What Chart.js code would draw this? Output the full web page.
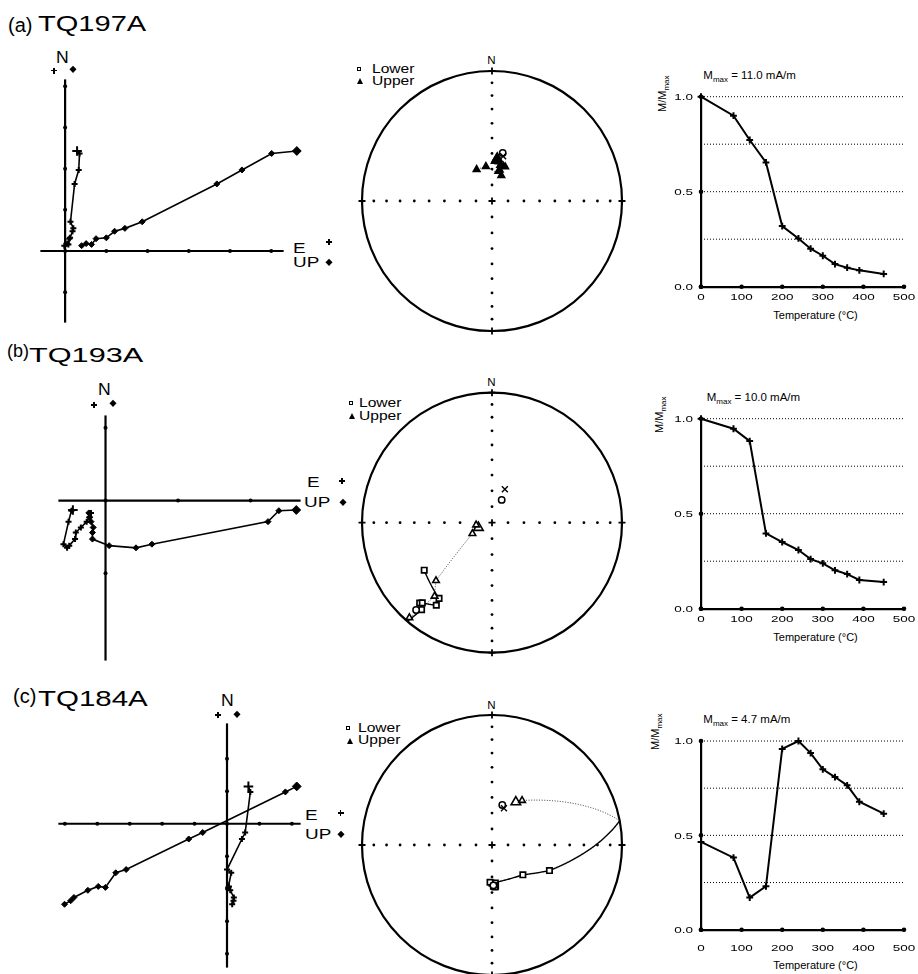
<!DOCTYPE html>
<html>
<head>
<meta charset="utf-8">
<script src="https://cdn.jsdelivr.net/npm/chart.js@4.4.0/dist/chart.umd.min.js"></script>
<style>
  body { margin: 0; background: #fff; }
  #fig { position: relative; width: 918px; height: 974px; overflow: hidden; font-family: "Liberation Sans", Arial, sans-serif; color: #000; }
  canvas { position: absolute; }
  .t { position: absolute; line-height: 1; white-space: nowrap; transform-origin: 0 0; }
  .sb { font-size: 8px; position: relative; top: 3px; }
  .sq { position: absolute; width: 2px; height: 2px; border: 1.5px solid #000; background: #fff; transform: translate(-50%, -50%); }
  .tri { position: absolute; width: 0; height: 0; border-left: 3.5px solid transparent; border-right: 3.5px solid transparent; border-bottom: 6px solid #000; transform: translate(-50%, -50%); }
  .dia { position: absolute; width: 4.5px; height: 4.5px; background: #000; transform: translate(-50%, -50%) rotate(45deg); }
  .pl { position: absolute; width: 6px; height: 6px; transform: translate(-50%, -50%); }
  .pl:before { content: ""; position: absolute; left: 0; top: 2.2px; width: 6px; height: 1.6px; background: #000; }
  .pl:after { content: ""; position: absolute; left: 2.2px; top: 0; width: 1.6px; height: 6px; background: #000; }
</style>
</head>
<body>
<div id="fig">
  <!-- panel titles -->
  <div class="t" style="left:8px;top:14.8px;font-size:20px">(a)</div>
  <div class="t" style="left:38px;top:13.1px;font-size:22px;transform:scaleX(1.32)">TQ197A</div>
  <div class="t" style="left:7px;top:341.5px;font-size:18px">(b)</div>
  <div class="t" style="left:29.3px;top:343.9px;font-size:21px;transform:scaleX(1.46)">TQ193A</div>
  <div class="t" style="left:13px;top:686px;font-size:20px">(c)</div>
  <div class="t" style="left:38.3px;top:688.1px;font-size:22px;transform:scaleX(1.34)">TQ184A</div>

  <!-- zijderveld labels -->
  <div class="t" style="left:56.1px;top:49.8px;font-size:16px;transform:scaleX(1.1)">N</div>
  <div class="pl" style="left:54.3px;top:70.7px"></div><div class="dia" style="left:73.3px;top:69.3px"></div>
  <div class="t" style="left:293px;top:241.4px;font-size:14px;transform:scaleX(1.35)">E</div>
  <div class="t" style="left:293px;top:254.8px;font-size:14px;transform:scaleX(1.35)">UP</div>
  <div class="pl" style="left:329px;top:242px"></div><div class="dia" style="left:329px;top:262px"></div>

  <div class="t" style="left:97.8px;top:381.5px;font-size:16px;transform:scaleX(1.1)">N</div>
  <div class="pl" style="left:94px;top:405px"></div><div class="dia" style="left:113px;top:403px"></div>
  <div class="t" style="left:307.3px;top:474.8px;font-size:14px;transform:scaleX(1.35)">E</div>
  <div class="t" style="left:304px;top:494.8px;font-size:14px;transform:scaleX(1.35)">UP</div>
  <div class="pl" style="left:342px;top:481px"></div><div class="dia" style="left:343px;top:502px"></div>

  <div class="t" style="left:220.6px;top:692.5px;font-size:16px;transform:scaleX(1.1)">N</div>
  <div class="pl" style="left:218px;top:715px"></div><div class="dia" style="left:237px;top:714px"></div>
  <div class="t" style="left:305px;top:808.1px;font-size:14px;transform:scaleX(1.35)">E</div>
  <div class="t" style="left:305px;top:827.4px;font-size:14px;transform:scaleX(1.35)">UP</div>
  <div class="pl" style="left:340.7px;top:813.3px"></div><div class="dia" style="left:340.7px;top:834px"></div>

  <!-- stereonet labels -->
  <div class="t" style="left:487.3px;top:55.3px;font-size:11.5px">N</div>
  <div class="sq" style="left:358.7px;top:69.2px"></div><div class="t" style="left:371.7px;top:62.5px;font-size:12px;transform:scaleX(1.3)">Lower</div>
  <div class="tri" style="left:360px;top:80.7px"></div><div class="t" style="left:371.7px;top:74.8px;font-size:12px;transform:scaleX(1.3)">Upper</div>

  <div class="t" style="left:487.3px;top:377px;font-size:11.5px">N</div>
  <div class="sq" style="left:350.5px;top:402.5px"></div><div class="t" style="left:359.3px;top:396.5px;font-size:12px;transform:scaleX(1.3)">Lower</div>
  <div class="tri" style="left:351.5px;top:416px"></div><div class="t" style="left:359.3px;top:410.1px;font-size:12px;transform:scaleX(1.3)">Upper</div>

  <div class="t" style="left:487.3px;top:699.6px;font-size:11.5px">N</div>
  <div class="sq" style="left:348.3px;top:727.5px"></div><div class="t" style="left:358.3px;top:721.5px;font-size:12px;transform:scaleX(1.3)">Lower</div>
  <div class="tri" style="left:349.5px;top:740.5px"></div><div class="t" style="left:358.3px;top:734.4px;font-size:12px;transform:scaleX(1.3)">Upper</div>

  <!-- demagnetisation labels -->
  <div class="t" style="left:703.3px;top:70.3px;font-size:11.5px">M<span class="sb">max</span> = 11.0 mA/m</div>
  <div class="t" style="left:656.9px;top:111.7px;font-size:11px;transform:rotate(-90deg)">M/M<span class="sb">max</span></div>
  <div class="t" style="left:773.3px;top:310.3px;font-size:11px">Temperature (°C)</div>

  <div class="t" style="left:706.7px;top:392px;font-size:11.5px">M<span class="sb">max</span> = 10.0 mA/m</div>
  <div class="t" style="left:653.6px;top:433.3px;font-size:11px;transform:rotate(-90deg)">M/M<span class="sb">max</span></div>
  <div class="t" style="left:773.3px;top:631.9px;font-size:11px">Temperature (°C)</div>

  <div class="t" style="left:703.3px;top:713.6px;font-size:11.5px">M<span class="sb">max</span> = 4.7 mA/m</div>
  <div class="t" style="left:650.3px;top:750px;font-size:11px;transform:rotate(-90deg)">M/M<span class="sb">max</span></div>
  <div class="t" style="left:773.3px;top:960.3px;font-size:11px">Temperature (°C)</div>
</div>

<script>
// thermal demagnetisation steps (°C) and normalised intensities
var tempSteps = [0, 80, 120, 160, 200, 240, 270, 300, 330, 360, 390, 450];
var magA = [1.00, 0.90, 0.772, 0.654, 0.319, 0.254, 0.200, 0.163, 0.119, 0.100, 0.086, 0.067];
var magB = [1.00, 0.947, 0.882, 0.396, 0.351, 0.309, 0.261, 0.239, 0.202, 0.182, 0.151, 0.140];
var magC = [0.465, 0.382, 0.170, 0.230, 0.958, 1.00, 0.936, 0.850, 0.809, 0.765, 0.678, 0.615];
var tempTicks = [0, 100, 200, 300, 400, 500];
var magTicks = [0, 0.5, 1.0];
var magGrid = [0.25, 0.5, 0.75, 1.0];

// zijderveld components (arbitrary units, one per step)
var zijN_A = [2.43, 2.37, 1.97, 1.63, 0.71, 0.55, 0.48, 0.32, 0.30, 0.16, 0.18, 0.13];
var zijE_A = [0.29, 0.35, 0.33, 0.23, 0.13, 0.20, 0.18, 0.12, 0.10, 0.08, 0.05, -0.02];
var zijUp_A = [5.62, 5.01, 4.29, 3.68, 1.87, 1.45, 1.20, 1.00, 0.75, 0.64, 0.51, 0.40];
var zijRangeE_A = [-0.6, 5.3], zijRangeN_A = [-1.74, 4.17];
var zijTicksE_A = [0, 1, 2, 3, 4, 5], zijTicksN_A = [-1, 1, 2, 3, 4];

var zijN_B = [-0.13, -0.14, -0.29, -0.60, -0.65, -0.62, -0.53, -0.44, -0.37, -0.29, -0.23, -0.17];
var zijE_B = [-0.45, -0.47, -0.51, -0.58, -0.53, -0.50, -0.42, -0.41, -0.34, -0.26, -0.22, -0.20];
var zijUp_B = [2.63, 2.39, 2.24, 0.64, 0.42, 0.05, -0.18, -0.18, -0.17, -0.20, -0.22, -0.23];
var zijRangeE_B = [-0.65, 2.69], zijRangeN_B = [-2.2, 1.17];
var zijTicksE_B = [0, 1, 2], zijTicksN_B = [1, -1];

var zijN_C = [1.15, 0.98, -0.27, -0.47, -1.41, -1.51, -1.96, -1.93, -2.05, -2.27, -2.37, -2.48];
var zijE_C = [0.66, 0.72, 0.56, 0.46, 0.00, 0.13, 0.04, 0.06, 0.10, 0.21, 0.20, 0.16];
var zijUp_C = [2.15, 1.80, -0.75, -1.18, -3.11, -3.43, -3.75, -3.97, -4.29, -4.72, -4.82, -5.01];
var zijRangeE_C = [-5.2, 2.27], zijRangeN_C = [-4.43, 3.09];
var zijTicksE_C = [-5, -4, -3, -2, -1, 0, 1, 2], zijTicksN_C = [2, 1, -1, -2, -3, -4];

// stereonet directions (declination, inclination in degrees), in step order
var decA = [7, 4, 10, 6, 13, 21, 18, 14, 12, 20, 350, 334];
var incA = [-63, -65, -65, -63, -67, -67, -67, -70, -71, -73, -68, -68];
var meanDecA = [12.6], meanIncA = [-59];
var crossDecA = [14], crossIncA = [61];

var decB = [250, 262, 241, 224, 218, 221, 219, 222, 221, 214, 215, 235];
var incB = [-81, -80, -76, -38, -29, -3.5, 15, 18, 19.4, 24.4, 29.7, 36.5];
var meanDecB = [221, 23], meanIncB = [12, 74.5];
var crossDecB = [21], crossIncB = [67.5];

var decC = [29, 34, 114, 134, 180, 175, 183, 178, 177, 175, 176, 176];
var incC = [-59, -56, 50, 63, 66, 66, 66.6, 64, 64.4, 64.2, 63.8, 63.6];
var meanDecC = [14.4, 178], meanIncC = [64, 64.6];
var crossDecC = [18], crossIncC = [65.7];

var stereoTickInc = [80, 70, 60, 50, 40, 30, 20, 10];
var stereoTickDec = [0, 90, 180, 270];

var fig = document.getElementById('fig');
var RAD = Math.PI / 180;

function mount(area, pad) {
  var cv = document.createElement('canvas');
  var L = Math.floor(area[0] - pad[0]), T = Math.floor(area[1] - pad[1]);
  var R = Math.ceil(area[2] + pad[2]), B = Math.ceil(area[3] + pad[3]);
  cv.width = R - L; cv.height = B - T;
  cv.style.left = L + 'px'; cv.style.top = T + 'px';
  cv.style.width = (R - L) + 'px'; cv.style.height = (B - T) + 'px';
  fig.appendChild(cv);
  return { cv: cv, padding: { left: area[0] - L, top: area[1] - T, right: R - area[2], bottom: B - area[3] } };
}

function baseOptions(padding) {
  return {
    responsive: false, animation: false, events: [], devicePixelRatio: 1,
    layout: { padding: padding },
    plugins: { legend: { display: false }, tooltip: { enabled: false } }
  };
}

// area is where the drawn axes end; the plot area gets a margin so the end points stay visible
function zijderveld(area, n, e, up, rangeE, rangeN, ticksE, ticksN) {
  var M = 22;
  var ux = (area[2] - area[0]) / (rangeE[1] - rangeE[0]);
  var uy = (area[3] - area[1]) / (rangeN[1] - rangeN[0]);
  var m = mount([area[0] - M, area[1] - M, area[2] + M, area[3] + M], [4, 4, 4, 4]);
  var pts = function (xs) { return xs.map(function (v, i) { return { x: v, y: n[i] }; }); };
  var opts = baseOptions(m.padding);
  opts.scales = {
    x: { type: 'linear', display: false, min: rangeE[0] - M / ux, max: rangeE[1] + M / ux },
    y: { type: 'linear', display: false, min: rangeN[0] - M / uy, max: rangeN[1] + M / uy }
  };
  new Chart(m.cv, {
    type: 'scatter',
    data: { datasets: [
      { data: pts(e), showLine: true, borderColor: '#000', borderWidth: 1.6, pointStyle: 'cross',
        pointRadius: function (c) { return c.dataIndex === 0 ? 4.8 : 3; },
        pointBorderColor: '#000', pointBorderWidth: 2, clip: false },
      { data: pts(up), showLine: true, borderColor: '#000', borderWidth: 1.6, pointStyle: 'rectRot',
        pointRadius: function (c) { return c.dataIndex === 0 ? 4.4 : 3; },
        pointBackgroundColor: '#000', pointBorderColor: '#000', pointBorderWidth: 1, clip: false },
      { data: ticksE.map(function (t) { return { x: t, y: 0 }; }).concat(ticksN.map(function (t) { return { x: 0, y: t }; })),
        pointStyle: 'circle', pointRadius: 2, pointBackgroundColor: '#000', pointBorderWidth: 0, clip: false },
      { data: rangeE.map(function (v) { return { x: v, y: 0 }; }), showLine: true, borderColor: '#000', borderWidth: 2.2, pointRadius: 0, clip: false },
      { data: rangeN.map(function (v) { return { x: 0, y: v }; }), showLine: true, borderColor: '#000', borderWidth: 2.2, pointRadius: 0, clip: false }
    ] },
    options: opts
  });
}

// equal-area projection, upper-hemisphere points plotted by |inc|
function eqArea(dec, inc) {
  var r = Math.SQRT2 * Math.sin((90 - Math.abs(inc)) * RAD / 2);
  return { x: r * Math.sin(dec * RAD), y: r * Math.cos(dec * RAD) };
}
function toVec(dec, inc) {
  return [Math.cos(inc * RAD) * Math.cos(dec * RAD), Math.cos(inc * RAD) * Math.sin(dec * RAD), Math.sin(inc * RAD)];
}

function stereoPathPlugin(dec, inc) {
  return {
    id: 'stereoPath',
    beforeDatasetsDraw: function (chart) {
      var ctx = chart.ctx, sx = chart.scales.x, sy = chart.scales.y;
      var cx = sx.getPixelForValue(0), cy = sy.getPixelForValue(0);
      var R = sx.getPixelForValue(1) - cx;
      ctx.save();
      ctx.strokeStyle = '#000';
      ctx.lineWidth = 2.2;
      ctx.beginPath(); ctx.arc(cx, cy, R, 0, 2 * Math.PI); ctx.stroke();
      // great circle steps between successive demag directions
      var runs = [], cur = null;
      for (var i = 1; i < dec.length; i++) {
        var a = toVec(dec[i - 1], inc[i - 1]), b = toVec(dec[i], inc[i]);
        var d = Math.min(1, Math.max(-1, a[0] * b[0] + a[1] * b[1] + a[2] * b[2]));
        var ang = Math.acos(d);
        var n = Math.max(2, Math.ceil(ang / RAD * 2));
        for (var k = 0; k <= n; k++) {
          var t = k / n, v;
          if (ang < 1e-6) { v = a; } else {
            var w1 = Math.sin((1 - t) * ang) / Math.sin(ang), w2 = Math.sin(t * ang) / Math.sin(ang);
            v = [w1 * a[0] + w2 * b[0], w1 * a[1] + w2 * b[1], w1 * a[2] + w2 * b[2]];
          }
          var len = Math.sqrt(v[0] * v[0] + v[1] * v[1] + v[2] * v[2]);
          var pd = Math.atan2(v[1], v[0]) / RAD, pi = Math.asin(v[2] / len) / RAD;
          var p = eqArea(pd, pi);
          var px = { x: sx.getPixelForValue(p.x), y: sy.getPixelForValue(p.y) };
          var lower = v[2] >= 0;
          if (!cur || cur.lower !== lower) {
            var start = cur ? cur.pts[cur.pts.length - 1] : null;
            cur = { lower: lower, pts: start ? [start] : [] };
            runs.push(cur);
          }
          cur.pts.push(px);
        }
      }
      runs.forEach(function (r) {
        if (r.pts.length < 2) return;
        ctx.beginPath();
        ctx.lineWidth = r.lower ? 1.4 : 1;
        ctx.strokeStyle = r.lower ? '#000' : '#333';
        ctx.setLineDash(r.lower ? [] : [1, 1.6]);
        ctx.moveTo(r.pts[0].x, r.pts[0].y);
        for (var j = 1; j < r.pts.length; j++) ctx.lineTo(r.pts[j].x, r.pts[j].y);
        ctx.stroke();
      });
      ctx.restore();
    }
  };
}

function stereonet(area, dec, inc, filledUpper, meanDec, meanInc, crossDec, crossInc) {
  var m = mount(area, [14, 14, 14, 14]);
  var lower = [], upper = [], upperIdx = [];
  dec.forEach(function (d, i) {
    var p = eqArea(d, inc[i]);
    if (inc[i] >= 0) lower.push(p); else { upper.push(p); upperIdx.push(i); }
  });
  var ticks = [], edges = [{ x: 0, y: 0 }];
  stereoTickDec.forEach(function (d) {
    stereoTickInc.forEach(function (i) { ticks.push(eqArea(d, i)); });
    edges.push(eqArea(d, 0));
  });
  var opts = baseOptions(m.padding);
  opts.scales = {
    x: { type: 'linear', display: false, min: -1, max: 1 },
    y: { type: 'linear', display: false, min: -1, max: 1 }
  };
  new Chart(m.cv, {
    type: 'scatter',
    data: { datasets: [
      { data: crossDec.map(function (d, i) { return eqArea(d, crossInc[i]); }), pointStyle: 'crossRot', pointRadius: 4.2,
        pointBorderColor: '#000', pointBorderWidth: 1.4, clip: false },
      { data: meanDec.map(function (d, i) { return eqArea(d, meanInc[i]); }), pointStyle: 'circle', pointRadius: 3.2,
        pointBackgroundColor: '#fff', pointBorderColor: '#000', pointBorderWidth: 1.5, clip: false },
      { data: upper, pointStyle: 'triangle',
        pointRadius: function (c) { return upperIdx[c.dataIndex] === 0 ? 5.5 : 3.8; },
        pointBackgroundColor: filledUpper ? '#000' : '#fff', pointBorderColor: '#000', pointBorderWidth: 1.6, clip: false },
      { data: lower, pointStyle: 'rect', pointRadius: 3.8,
        pointBackgroundColor: '#fff', pointBorderColor: '#000', pointBorderWidth: 1.7, clip: false },
      { data: ticks, pointStyle: 'circle', pointRadius: 1.4, pointBackgroundColor: '#000', pointBorderWidth: 0, clip: false },
      { data: edges, pointStyle: 'cross', pointRadius: 3.5, pointBorderColor: '#000', pointBorderWidth: 1.8, clip: false }
    ] },
    options: opts,
    plugins: [stereoPathPlugin(dec, inc)]
  });
}

function wideText(ctx, s, px, py, align) {
  ctx.save();
  ctx.translate(px, py);
  ctx.scale(1.42, 1);
  ctx.textAlign = align;
  ctx.fillText(s, 0, 0);
  ctx.restore();
}

function demagPlugin(gap) {
  return {
    id: 'demagDecor',
    beforeDatasetsDraw: function (chart) {
      var ctx = chart.ctx, sx = chart.scales.x, sy = chart.scales.y;
      ctx.save();
      ctx.strokeStyle = '#000'; ctx.lineWidth = 1; ctx.setLineDash([1, 2]);
      magGrid.forEach(function (v) {
        var py = sy.getPixelForValue(v);
        ctx.beginPath(); ctx.moveTo(sx.getPixelForValue(0), py); ctx.lineTo(sx.getPixelForValue(500), py); ctx.stroke();
      });
      ctx.restore();
    },
    afterDraw: function (chart) {
      var ctx = chart.ctx, sx = chart.scales.x, sy = chart.scales.y;
      var y0 = sy.getPixelForValue(0), x0 = sx.getPixelForValue(0);
      ctx.save();
      ctx.fillStyle = '#000';
      ctx.font = '9.5px "Liberation Sans"';
      ctx.textBaseline = 'alphabetic';
      tempTicks.forEach(function (t) { wideText(ctx, String(t), sx.getPixelForValue(t), y0 + gap + 6.8, 'center'); });
      magTicks.forEach(function (v) { wideText(ctx, v.toFixed(1), x0 - 8, sy.getPixelForValue(v) + 3.4, 'right'); });
      ctx.restore();
    }
  };
}

function demag(area, mag, gap) {
  var m = mount(area, [52, 12, 16, 30]);
  var opts = baseOptions(m.padding);
  opts.scales = {
    x: { type: 'linear', min: 0, max: 500, grid: { display: false, drawTicks: false }, ticks: { display: false },
         border: { display: true, color: '#000', width: 2.2 }, afterFit: function (s) { s.height = 0; } },
    y: { type: 'linear', min: 0, max: 1, grid: { display: false, drawTicks: false }, ticks: { display: false },
         border: { display: true, color: '#000', width: 2.2 }, afterFit: function (s) { s.width = 0; } }
  };
  new Chart(m.cv, {
    type: 'scatter',
    data: { datasets: [
      { data: tempSteps.map(function (t, i) { return { x: t, y: mag[i] }; }), showLine: true, borderColor: '#000', borderWidth: 2,
        pointStyle: 'cross', pointRadius: 3.4, pointBorderColor: '#000', pointBorderWidth: 2, clip: false },
      { data: tempTicks.map(function (t) { return { x: t, y: 0 }; }).concat(magTicks.map(function (v) { return { x: 0, y: v }; })),
        pointStyle: 'circle', pointRadius: 2.3, pointBackgroundColor: '#000', pointBorderWidth: 0, clip: false }
    ] },
    options: opts,
    plugins: [demagPlugin(gap)]
  });
}

zijderveld([38, 77, 286, 325], zijN_A, zijE_A, zijUp_A, zijRangeE_A, zijRangeN_A, zijTicksE_A, zijTicksN_A);
zijderveld([56, 413.3, 303, 662.7], zijN_B, zijE_B, zijUp_B, zijRangeE_B, zijRangeN_B, zijTicksE_B, zijTicksN_B);
zijderveld([56, 721.1, 303, 969.8], zijN_C, zijE_C, zijUp_C, zijRangeE_C, zijRangeN_C, zijTicksE_C, zijTicksN_C);

stereonet([362, 71, 622, 331], decA, incA, true, meanDecA, meanIncA, crossDecA, crossIncA);
stereonet([362, 392.7, 622, 652.7], decB, incB, false, meanDecB, meanIncB, crossDecB, crossIncB);
stereonet([362, 715, 622, 975], decC, incC, false, meanDecC, meanIncC, crossDecC, crossIncC);

demag([701, 96.7, 904, 286.7], magA, 6.6);
demag([701, 418.7, 904, 608.7], magB, 6.3);
demag([701, 741, 904, 929.7], magC, 14.3);
</script>
</body>
</html>
